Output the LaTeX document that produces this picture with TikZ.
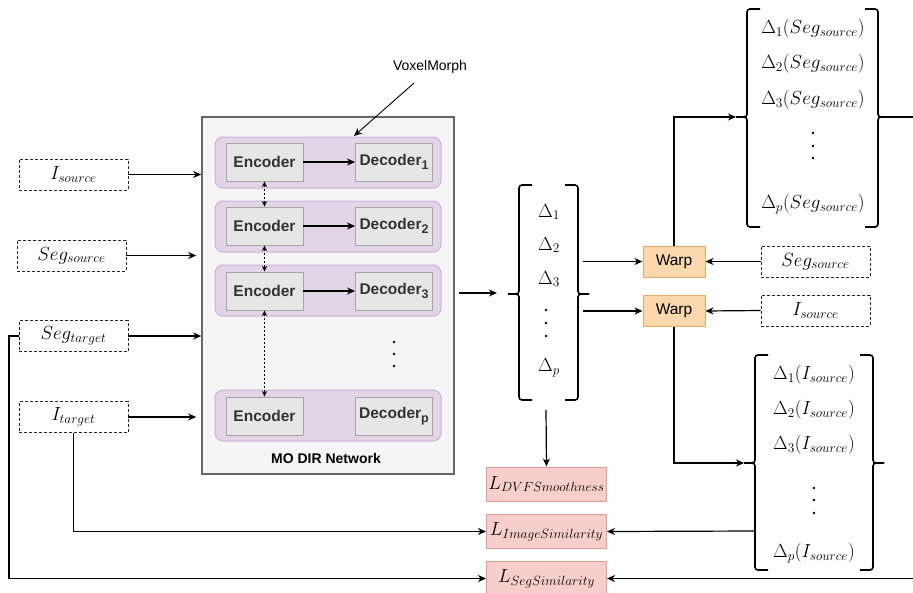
\RequirePackage{fix-cm}
\documentclass[tikz,border=0pt]{standalone}
\usepackage{fontspec}
\setsansfont{Liberation Sans}
\usetikzlibrary{arrows.meta,positioning}

\definecolor{netfill}{HTML}{F5F5F5}
\definecolor{netline}{HTML}{666666}
\definecolor{rowfill}{HTML}{E1D5E7}
\definecolor{rowline}{HTML}{C9B3D6}
\definecolor{encfill}{HTML}{E6E6E6}
\definecolor{encline}{HTML}{A6A6A6}
\definecolor{encText}{HTML}{333333}
\definecolor{warpfill}{HTML}{FAD7AC}
\definecolor{warpline}{HTML}{E5A865}
\definecolor{lossfill}{HTML}{F8CECC}
\definecolor{lossline}{HTML}{E09A98}

\newcommand{\mathsz}{\fontsize{19}{22}\selectfont}
\newcommand{\decsub}[1]{\raisebox{-3.5pt}{\fontsize{12.5}{13}\selectfont #1}}

\tikzset{
  arr/.style={-{Stealth[length=8pt,width=7pt,inset=2.5pt]}, line width=1.2pt},
  dotarr/.style={{Stealth[length=5.5pt,width=5pt,inset=1.5pt]}-{Stealth[length=5.5pt,width=5pt,inset=1.5pt]}, line width=0.9pt, dash pattern=on 2pt off 2pt},
  inbox/.style={draw=black!85, line width=0.8pt, dash pattern=on 3pt off 2pt, minimum width=109pt, minimum height=31pt, inner sep=0pt, font=\mathsz},
  netbox/.style={draw=netline, fill=netfill, line width=1.6pt, minimum width=252pt, minimum height=357pt, inner sep=0pt},
  rowbox/.style={draw=rowline, fill=rowfill, line width=1pt, rounded corners=8pt, minimum width=226pt, minimum height=51pt, inner sep=0pt},
  encbox/.style={draw=encline, fill=encfill, line width=0.9pt, minimum width=77pt, minimum height=38pt, inner sep=0pt, text=encText, font=\sffamily\bfseries\fontsize{15.5}{18}\selectfont},
  warpbox/.style={draw=warpline, fill=warpfill, line width=1pt, minimum width=62pt, minimum height=31pt, inner sep=0pt, font=\sffamily\fontsize{15.5}{18}\selectfont},
  lossbox/.style={draw=lossline, fill=lossfill, line width=1pt, minimum width=120pt, minimum height=34pt, inner sep=0pt, font=\mathsz},
  lbl/.style={inner sep=0pt, font=\mathsz},
  brk/.style={line width=1.6pt, rounded corners=3pt},
}

% bracket pieces: name, x, top, mid, bottom
\newcommand{\leftbrk}[5]{%
  \draw[brk] (#2+13,#3) -- (#2,#3) -- (#2,#4) -- (#2-11,#4);
  \draw[brk] (#2-11,#4) -- (#2,#4) -- (#2,#5) -- (#2+13,#5);
  \coordinate (#1) at (#2-11,#4);}
\newcommand{\rightbrk}[5]{%
  \draw[brk] (#2-13,#3) -- (#2,#3) -- (#2,#4) -- (#2+11,#4);
  \draw[brk] (#2+11,#4) -- (#2,#4) -- (#2,#5) -- (#2-13,#5);
  \coordinate (#1) at (#2+11,#4);}

\begin{document}
\begin{tikzpicture}[x=1pt,y=-1pt]
  \useasboundingbox (0,0) rectangle (913,592);

  % inputs
  \node[inbox] (isrc) at (73.5,174.5) {$I_{source}$};
  \node[inbox] (ssrc) at (71.5,255.5) {$Seg_{source}$};
  \node[inbox] (stgt) at (73.5,336) {$Seg_{target}$};
  \node[inbox] (itgt) at (73.5,417) {$I_{target}$};

  % network
  \node[netbox] (net) at (328,295.5) {};
  \node[font=\sffamily\bfseries\fontsize{14}{16}\selectfont] (netname) at (326,458) {MO DIR Network};

  \node[rowbox] (row1) at (328,162.5) {};
  \node[rowbox] (row2) at (328,226.5) {};
  \node[rowbox] (row3) at (328,290.5) {};
  \node[rowbox] (row4) at (328,415.5) {};

  \node[encbox] (enc1) at (264.5,162) {Encoder};
  \node[encbox] (enc2) at (264.5,226) {Encoder};
  \node[encbox] (enc3) at (264.5,291) {Encoder};
  \node[encbox] (enc4) at (264.5,416) {Encoder};
  \node[encbox] (dec1) at (394,162) {Decoder\decsub{1}};
  \node[encbox] (dec2) at (394,226) {Decoder\decsub{2}};
  \node[encbox] (dec3) at (394,291) {Decoder\decsub{3}};
  \node[encbox] (dec4) at (394,416) {Decoder\decsub{p}};

  \draw[arr] (enc1) -- (dec1);
  \draw[arr] (enc2) -- (dec2);
  \draw[arr] (enc3) -- (dec3);
  \draw[dotarr] (enc1) -- (enc2);
  \draw[dotarr] (enc2) -- (enc3);
  \draw[dotarr] (enc3) -- (enc4);
  \foreach \y in {342,354,366} \fill (394,\y) circle (1.3pt);

  \node[font=\sffamily\fontsize{14}{16}\selectfont] (vm) at (430,67) {VoxelMorph};
  \coordinate (vmtip) at (354,136);
  \draw[line width=0.9pt, -{Stealth[length=8pt,width=7pt,inset=2.5pt]}] ([xshift=-16pt,yshift=-6pt]vm.south) -- (vmtip);

  \draw[arr] (isrc.east) -- (isrc.east -| net.west);
  \draw[arr] (ssrc.east) -- ([xshift=-5pt]ssrc.east -| net.west);
  \draw[arr] (stgt.east) -- (stgt.east -| net.west);
  \draw[arr] (itgt.east) -- ([xshift=-5pt]itgt.east -| net.west);

  % deformation fields
  \leftbrk{dl}{519}{185}{294}{400}
  \rightbrk{dr}{578}{185}{294}{400}
  \node[lbl] (d1) at (549,212) {$\Delta_1$};
  \node[lbl] (d2) at (549,245) {$\Delta_2$};
  \node[lbl] (d3) at (549,279) {$\Delta_3$};
  \foreach \y in {310,323,336} \fill (546,\y) circle (1.3pt);
  \node[lbl] (dp) at (549,368) {$\Delta_p$};

  \coordinate (netout) at (459,293);
  \draw[arr] (netout) -- ([xshift=-11pt]netout -| dl);
  \coordinate (dout) at (583,294);
  \coordinate (dbot) at (546,410);

  % warping
  \node[warpbox] (warp1) at (674,261.5) {Warp};
  \node[warpbox] (warp2) at (674,311) {Warp};
  \node[inbox] (ssrc2) at (815.5,261.5) {$Seg_{source}$};
  \node[inbox] (isrc2) at (815.5,310.5) {$I_{source}$};

  \draw[arr] (dout |- warp1.west) -- (warp1.west);
  \draw[arr] (dout |- warp2.west) -- (warp2.west);
  \draw[arr] (ssrc2.west) -- (warp1.east);
  \draw[arr] (isrc2.west) -- (warp2.east);

  % warped segmentations
  \leftbrk{sl}{747}{9}{117}{227}
  \rightbrk{sr}{878}{9}{117}{227}
  \node[lbl] (s1) at (813,29) {$\Delta_1(Seg_{source})$};
  \node[lbl] (s2) at (813,64) {$\Delta_2(Seg_{source})$};
  \node[lbl] (s3) at (813,100) {$\Delta_3(Seg_{source})$};
  \foreach \y in {133,146,158} \fill (813,\y) circle (1.3pt);
  \node[lbl] (sp) at (813,204) {$\Delta_p(Seg_{source})$};

  % warped images
  \leftbrk{il}{755}{355}{463}{570}
  \rightbrk{ir}{873}{355}{463}{570}
  \node[lbl] (i1) at (814,375) {$\Delta_1(I_{source})$};
  \node[lbl] (i2) at (814,410) {$\Delta_2(I_{source})$};
  \node[lbl] (i3) at (814,445) {$\Delta_3(I_{source})$};
  \foreach \y in {488,500,513} \fill (814,\y) circle (1.3pt);
  \node[lbl] (ip) at (814,553) {$\Delta_p(I_{source})$};

  \draw[arr] (warp1.north) |- (sl);
  \draw[arr] (warp2.south) |- (il);

  % losses
  \node[lossbox] (ldvf) at (546.5,484) {$L_{DVFSmoothness}$};
  \node[lossbox] (limg) at (546.5,531.5) {$L_{ImageSimilarity}$};
  \node[lossbox] (lseg) at (546.5,578.5) {$L_{SegSimilarity}$};

  \draw[arr] (dbot) -- (ldvf.north);
  \coordinate (ibl) at (755,531);
  \draw[arr] (itgt.south) |- (limg.west);
  \draw[arr] (ibl) -- (limg.east);
  \coordinate (rail) at (9,336);
  \draw[arr] (stgt.west) -- (rail) |- (lseg.west);
  \coordinate (edge) at (925,117);
  \draw[arr] (sr) -- (edge) |- (lseg.east);
\end{tikzpicture}
\end{document}
